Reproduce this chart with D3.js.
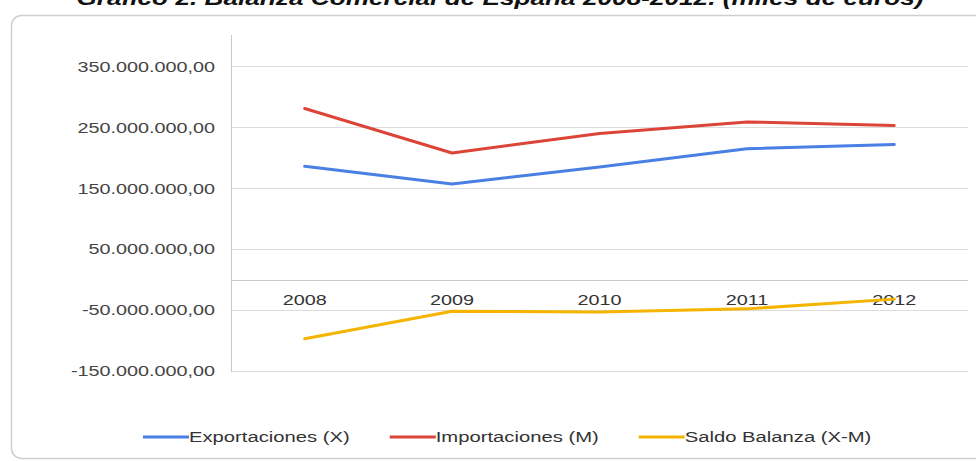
<!DOCTYPE html>
<meta charset="utf-8">
<head>
  <title>Balanza Comercial de España 2008-2012</title>
  <style>
    body { margin: 0; background: #fff; }
    svg { display: block; font-family: "Liberation Sans", Arial, sans-serif; }
  </style>
</head>
<body>
  <script src="https://cdn.jsdelivr.net/npm/d3@7"></script>
  <div id="chart"></div>
  <script>

    var years = ['2008', '2009', '2010', '2011', '2012'];
    var exportaciones = [186000000, 157000000, 185000000, 215000000, 222000000];
    var importaciones = [281000000, 208000000, 240000000, 259000000, 253000000];
    var saldo = [-97000000, -52000000, -53000000, -48000000, -32000000];
    var yTicks = [-150000000, -50000000, 50000000, 150000000, 250000000, 350000000];
    var seriesNames = ['Exportaciones (X)', 'Importaciones (M)', 'Saldo Balanza (X-M)'];
    var seriesColors = ['#4a7fe3', '#db4437', '#f4b400'];

    var width = 976;
    var height = 461;
    var stretch = 1.32; // the picture is wider than the text would normally be

    var svg = d3.select('#chart')
      .append('svg')
      .attr('width', width)
      .attr('height', height);

    // frame
    svg.append('rect')
      .attr('x', 11.5)
      .attr('y', 15.5)
      .attr('width', 990)
      .attr('height', 443)
      .attr('rx', 10)
      .attr('fill', '#fff')
      .attr('stroke', '#cfcfcf')
      .attr('stroke-width', 1.5);

    // title, cut at top
    svg.append('text')
      .attr('transform', 'translate(500,5) scale(1.31,1)')
      .attr('text-anchor', 'middle')
      .attr('font-size', 20)
      .attr('font-weight', 'bold')
      .attr('font-style', 'italic')
      .attr('fill', '#111')
      .text('Gráfico 2. Balanza Comercial de España 2008-2012. (miles de euros)');

    var x = d3.scaleBand()
      .domain(years)
      .range([231, 968]);

    var y = d3.scaleLinear()
      .domain([-150000000, 400000000])
      .range([371, 36]);

    var fmt = function(v) {
      var s = d3.format(',.2f')(v);
      return s.replace(/,/g, '#').replace('.', ',').replace(/#/g, '.').replace('−', '-');
    };

    // grid
    svg.append('g')
      .selectAll('line')
      .data(yTicks)
      .enter()
      .append('line')
      .attr('x1', 231)
      .attr('x2', 968)
      .attr('y1', function(d) { return Math.round(y(d)) + 0.5; })
      .attr('y2', function(d) { return Math.round(y(d)) + 0.5; })
      .attr('stroke', '#dcdcdc');

    // zero axis
    svg.append('line')
      .attr('x1', 231)
      .attr('x2', 968)
      .attr('y1', Math.round(y(0)) + 0.5)
      .attr('y2', Math.round(y(0)) + 0.5)
      .attr('stroke', '#c8c8c8');

    // y axis line
    svg.append('line')
      .attr('x1', 231.5)
      .attr('x2', 231.5)
      .attr('y1', 35)
      .attr('y2', 372)
      .attr('stroke', '#c8c8c8');

    // y labels
    svg.append('g')
      .selectAll('text')
      .data(yTicks)
      .enter()
      .append('text')
      .attr('transform', function(d) { return 'translate(215,' + y(d) + ') scale(' + stretch + ',1)'; })
      .attr('dy', '0.35em')
      .attr('text-anchor', 'end')
      .attr('font-size', 15)
      .attr('fill', '#444')
      .text(fmt);

    // category labels
    svg.append('g')
      .selectAll('text')
      .data(years)
      .enter()
      .append('text')
      .attr('transform', function(d) { return 'translate(' + (x(d) + x.bandwidth() / 2) + ',' + (y(0) + 25) + ') scale(' + stretch + ',1)'; })
      .attr('text-anchor', 'middle')
      .attr('font-size', 15)
      .attr('fill', '#333')
      .text(function(d) { return d; });

    // lines
    var line = d3.line()
      .x(function(d, i) { return x(years[i]) + x.bandwidth() / 2; })
      .y(function(d) { return y(d); });

    var seriesData = [exportaciones, importaciones, saldo];
    svg.append('g')
      .selectAll('path')
      .data(seriesData)
      .enter()
      .append('path')
      .attr('d', line)
      .attr('fill', 'none')
      .attr('stroke', function(d, i) { return seriesColors[i]; })
      .attr('stroke-width', 3)
      .attr('stroke-linejoin', 'round')
      .attr('stroke-linecap', 'round');

    // legend
    var legend = svg.append('g');
    var lx = 143;
    var ly = 437;
    var ls = 1.35;
    seriesNames.forEach(function(name, i) {
      legend.append('line')
        .attr('x1', lx)
        .attr('x2', lx + 46)
        .attr('y1', ly)
        .attr('y2', ly)
        .attr('stroke', seriesColors[i])
        .attr('stroke-width', 3);
      var t = legend.append('text')
        .attr('transform', 'translate(' + (lx + 46) + ',' + ly + ') scale(' + ls + ',1)')
        .attr('dy', '0.35em')
        .attr('font-size', 15)
        .attr('fill', '#333')
        .text(name);
      lx += 46 + t.node().getComputedTextLength() * ls + 40;
    });

  </script>
</body>
